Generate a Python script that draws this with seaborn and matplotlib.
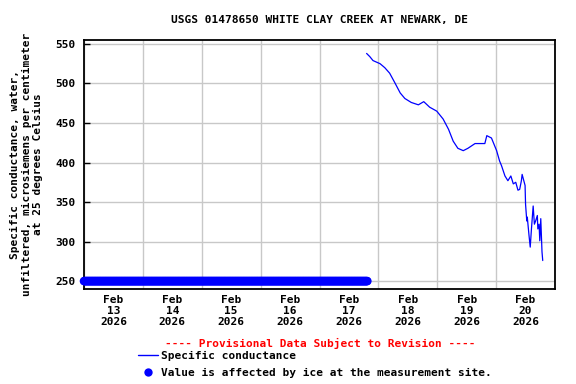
import pandas as pd
import matplotlib
matplotlib.use('Agg')
import matplotlib.pyplot as plt
import matplotlib.dates as mdates
from matplotlib.lines import Line2D
import seaborn as sns

# 数据: 从2026-02-13 00:00起的小时数, 比电导率
start = pd.Timestamp('2026-02-13 00:00')
sc_hours = [115.2, 116.5, 117.8, 120.7, 122.6, 124.6, 126.7, 128.9, 130.8, 133.4,
            136.3, 138.5, 140.9, 143.8, 146.4, 148.6, 150.5, 152.4, 154.6, 156.5,
            159.4, 163.4, 164.2, 166.1, 168.2, 169.4, 170.2, 171.6, 172.8, 174.0,
            175.0, 176.0, 176.9, 177.6, 178.3, 178.6, 179.8, 180.0, 180.5, 180.7,
            181.4, 181.9, 182.4, 183.1, 183.6, 184.1, 184.8, 185.0, 185.5, 185.8,
            186.2, 186.7, 187.0]
sc_values = [538, 534, 529, 525, 520, 513, 501, 488, 481, 476,
             473, 477, 470, 465, 455, 442, 427, 418, 415, 418,
             424, 424, 434, 431, 415, 402, 396, 383, 377, 383,
             373, 375, 365, 366, 377, 385, 371, 347, 326, 331,
             308, 293, 316, 345, 322, 326, 333, 316, 322, 301,
             329, 287, 276]

# 冰影响的数据 (15分钟间隔, 显示在250处)
ice_start = '2026-02-13 00:00'
ice_end = '2026-02-17 19:30'
ice_level = 250

sc = pd.DataFrame({'time': start + pd.to_timedelta(sc_hours, unit='h'),
                   'value': sc_values})
ice = pd.DataFrame({'time': pd.date_range(ice_start, ice_end, freq='15min')})
ice['value'] = ice_level

sns.set_style('white')
plt.rcParams['font.family'] = ['DejaVu Sans Mono']
plt.rcParams['font.weight'] = 'bold'
plt.rcParams['axes.titleweight'] = 'bold'
plt.rcParams['axes.labelweight'] = 'bold'
plt.rcParams['font.size'] = 8
for key in ['text.color', 'axes.labelcolor', 'xtick.color', 'ytick.color']:
    plt.rcParams[key] = 'black'

fig = plt.figure(figsize=(5.76, 3.84), dpi=100)
ax = fig.add_axes([84/576, 1-289/384, 471/576, 249/384])

sns.scatterplot(data=ice, x='time', y='value', ax=ax, color='#0000ff', s=38,
                edgecolor='none', zorder=3, clip_on=False, legend=False)
sns.lineplot(data=sc, x='time', y='value', ax=ax, color='#0000ff', linewidth=0.9,
             zorder=4, legend=False)

ax.set_xlim(pd.Timestamp('2026-02-13'), pd.Timestamp('2026-02-21'))
ax.set_ylim(240, 555)
ax.set_yticks([250, 300, 350, 400, 450, 500, 550])

ax.xaxis.set_major_locator(mdates.HourLocator(byhour=12))
ax.xaxis.set_major_formatter(mdates.DateFormatter('%b\n%d\n%Y'))
ax.xaxis.set_minor_locator(mdates.DayLocator())
ax.tick_params(axis='x', which='major', length=0, pad=4)
ax.tick_params(axis='x', which='minor', length=0)
ax.tick_params(axis='y', direction='in', length=4, width=1, pad=6, left=True)
for lab in ax.get_xticklabels():
    lab.set_linespacing(1.15)

ax.grid(False)
ax.grid(True, axis='x', which='minor', color='#c8c8c8', linewidth=1)
ax.grid(True, axis='y', which='major', color='#c8c8c8', linewidth=1)
ax.set_axisbelow(True)
for s in ax.spines.values():
    s.set_color('black')
    s.set_linewidth(1.3)

ax.set_xlabel('')
ax.set_ylabel('Specific conductance, water,\nunfiltered, microsiemens per centimeter\nat 25 degrees Celsius',
              fontsize=8, labelpad=9, linespacing=1.15)
ax.set_title('USGS 01478650 WHITE CLAY CREEK AT NEWARK, DE', fontsize=8, pad=12)

fig.text(320/576, 1-343/384, '---- Provisional Data Subject to Revision ----',
         color='red', ha='center', va='center', fontsize=8, fontweight='bold')

handles = [Line2D([], [], color='#0000ff', linewidth=1),
           Line2D([], [], color='#0000ff', marker='o', linestyle='none',
                  markersize=6, markeredgewidth=0)]
labels = ['Specific conductance', 'Value is affected by ice at the measurement site.']
ax.legend(handles, labels, loc='upper left',
          bbox_to_anchor=(138/576, 1-351/384), bbox_transform=fig.transFigure,
          frameon=False, handlelength=1.8, handletextpad=0.3, labelspacing=0.6,
          borderpad=0, borderaxespad=0, fontsize=8)

plt.savefig('out.png', dpi=100)
plt.close()
